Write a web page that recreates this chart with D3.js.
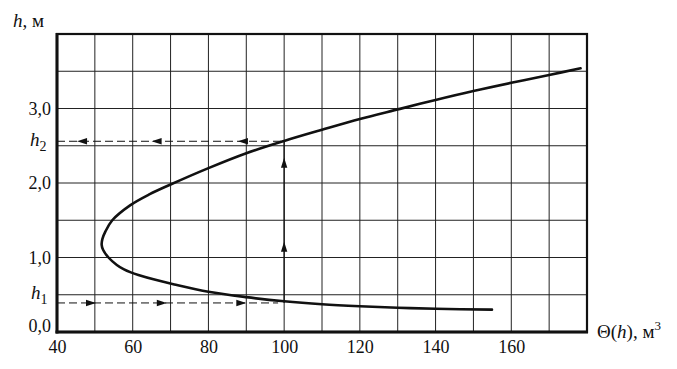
<!DOCTYPE html>
<html>
<head>
<meta charset="utf-8">
<script src="https://cdn.jsdelivr.net/npm/d3@7/dist/d3.min.js"></script>
<style>
  html, body { margin: 0; padding: 0; background: #fff; }
  svg { display: block; }
  text { font-family: "Liberation Serif", "DejaVu Serif", serif; fill: #111; }
</style>
</head>
<body>
<svg id="chart" width="677" height="369"></svg>
<script>
// ---- data ----
const thetaTicks = [40, 60, 80, 100, 120, 140, 160];
const hTicks = [0, 1, 2, 3];
const thetaGrid = [50, 60, 70, 80, 90, 100, 110, 120, 130, 140, 150, 160, 170];
const hGrid = [0.5, 1, 1.5, 2, 2.5, 3, 3.5];

// curve Θ(h), traced from lower-right end to upper-right end
const curveTheta = [154.9, 140, 130, 120, 110, 100, 90, 80, 71, 66, 61.5, 59.5, 57.7, 55.8, 53.6, 52.2, 51.8, 52.0, 52.8, 54.6, 59.3, 64.5, 70, 80, 90, 100, 110, 120, 130.6, 140, 150, 160, 170, 178.3];
const curveH     = [0.30, 0.312, 0.325, 0.345, 0.372, 0.412, 0.468, 0.54, 0.638, 0.70, 0.765, 0.80, 0.84, 0.9, 1.0, 1.1, 1.17, 1.25, 1.35, 1.5, 1.7, 1.85, 1.98, 2.2, 2.40, 2.565, 2.715, 2.86, 2.995, 3.115, 3.235, 3.345, 3.45, 3.54];

const h1 = 0.39, h2 = 2.56, thetaMark = 100;
const h1ArrowTips = [50.3, 69, 90];      // pointing right
const h2ArrowTips = [45.3, 65, 87.8];    // pointing left
const upArrowTips = [1.21, 2.34];        // pointing up

// ---- layout ----
const FONT = '"Liberation Serif", "DejaVu Serif", serif';
const svg = d3.select("#chart");
const x = d3.scaleLinear().domain([40, 180]).range([57, 587]);
const y = d3.scaleLinear().domain([0, 4]).range([332, 34]);
const ink = "#111";

// grid
svg.append("g").selectAll("line").data(thetaGrid).join("line")
  .attr("x1", d => x(d)).attr("x2", d => x(d))
  .attr("y1", y(0)).attr("y2", y(4))
  .attr("stroke", "#222").attr("stroke-width", 1);
svg.append("g").selectAll("line").data(hGrid).join("line")
  .attr("x1", x(40)).attr("x2", x(180))
  .attr("y1", d => y(d)).attr("y2", d => y(d))
  .attr("stroke", "#222").attr("stroke-width", 1);

// frame
svg.append("rect")
  .attr("x", x(40)).attr("y", y(4))
  .attr("width", x(180) - x(40)).attr("height", y(0) - y(4))
  .attr("fill", "none").attr("stroke", ink).attr("stroke-width", 2.2);
svg.append("line").attr("x1", x(40)).attr("x2", x(40)).attr("y1", y(4) - 1).attr("y2", y(0) + 1.5)
  .attr("stroke", ink).attr("stroke-width", 3);
svg.append("line").attr("x1", x(40) - 1.5).attr("x2", x(180) + 1).attr("y1", y(0)).attr("y2", y(0))
  .attr("stroke", ink).attr("stroke-width", 3);

// axes
const xAxis = svg.append("g").attr("transform", `translate(0,${y(0)})`)
  .call(d3.axisBottom(x).tickValues(thetaTicks).tickSize(0).tickPadding(8).tickFormat(d3.format("d")));
xAxis.attr("font-family", FONT).attr("font-size", 18);
xAxis.select(".domain").remove();
xAxis.selectAll("text").attr("font-size", 18).attr("fill", ink).style("font-family", FONT);

const yAxis = svg.append("g").attr("transform", `translate(${x(40)},0)`)
  .call(d3.axisLeft(y).tickValues(hTicks).tickSize(0).tickPadding(6)
    .tickFormat(d => d3.format(".1f")(d).replace(".", ",")));
yAxis.attr("font-family", FONT).attr("font-size", 18);
yAxis.select(".domain").remove();
yAxis.selectAll("text").attr("font-size", 18).attr("fill", ink).style("font-family", FONT)
  .attr("dy", d => d === 0 ? "-0.05em" : "0.32em");

// dashed guide lines
svg.append("line").attr("x1", x(40)).attr("x2", x(thetaMark)).attr("y1", y(h2)).attr("y2", y(h2))
  .attr("stroke", ink).attr("stroke-width", 1).attr("stroke-dasharray", "8,4");
svg.append("line").attr("x1", x(40)).attr("x2", x(thetaMark) - 6).attr("y1", y(h1)).attr("y2", y(h1))
  .attr("stroke", ink).attr("stroke-width", 1).attr("stroke-dasharray", "8,4");
// vertical arrow line
svg.append("line").attr("x1", x(thetaMark)).attr("x2", x(thetaMark)).attr("y1", y(h1)).attr("y2", y(h2))
  .attr("stroke", ink).attr("stroke-width", 1.2);

// arrowheads
const L = 10, W = 3.2;
svg.append("g").selectAll("path").data(h1ArrowTips).join("path")
  .attr("d", d => { const tx = x(d), ty = y(h1); return `M${tx},${ty}L${tx - L},${ty - W}L${tx - L},${ty + W}Z`; })
  .attr("fill", ink);
svg.append("g").selectAll("path").data(h2ArrowTips).join("path")
  .attr("d", d => { const tx = x(d), ty = y(h2); return `M${tx},${ty}L${tx + L},${ty - W}L${tx + L},${ty + W}Z`; })
  .attr("fill", ink);
svg.append("g").selectAll("path").data(upArrowTips).join("path")
  .attr("d", d => { const tx = x(thetaMark), ty = y(d); return `M${tx},${ty}L${tx - W},${ty + L}L${tx + W},${ty + L}Z`; })
  .attr("fill", ink);

// curve
const pts = curveTheta.map((t, i) => [t, curveH[i]]);
svg.append("path").datum(pts)
  .attr("d", d3.line().x(d => x(d[0])).y(d => y(d[1])).curve(d3.curveCatmullRom.alpha(0.5)))
  .attr("fill", "none").attr("stroke", ink).attr("stroke-width", 2.6)
  .attr("stroke-linejoin", "round").attr("stroke-linecap", "round");

// labels
const yTitle = svg.append("text").attr("x", 13).attr("y", 27).attr("font-size", 19).attr("font-family", FONT);
yTitle.append("tspan").attr("font-style", "italic").text("h");
yTitle.append("tspan").text(", м");

function hLabel(xp, yp, sub) {
  const t = svg.append("text").attr("x", xp).attr("y", yp).attr("font-size", 19).attr("font-family", FONT);
  t.append("tspan").attr("font-style", "italic").text("h");
  t.append("tspan").attr("font-size", 14).attr("dy", 5).text(sub);
}
hLabel(30, y(h2) + 5, "2");
hLabel(31, y(h1) - 4, "1");

const xTitle = svg.append("text").attr("x", 597).attr("y", 338).attr("font-size", 19).attr("font-family", FONT);
xTitle.append("tspan").text("Θ(");
xTitle.append("tspan").attr("font-style", "italic").text("h");
xTitle.append("tspan").text("), м");
xTitle.append("tspan").attr("font-size", 13).attr("dy", -8).text("3");
</script>
</body>
</html>
